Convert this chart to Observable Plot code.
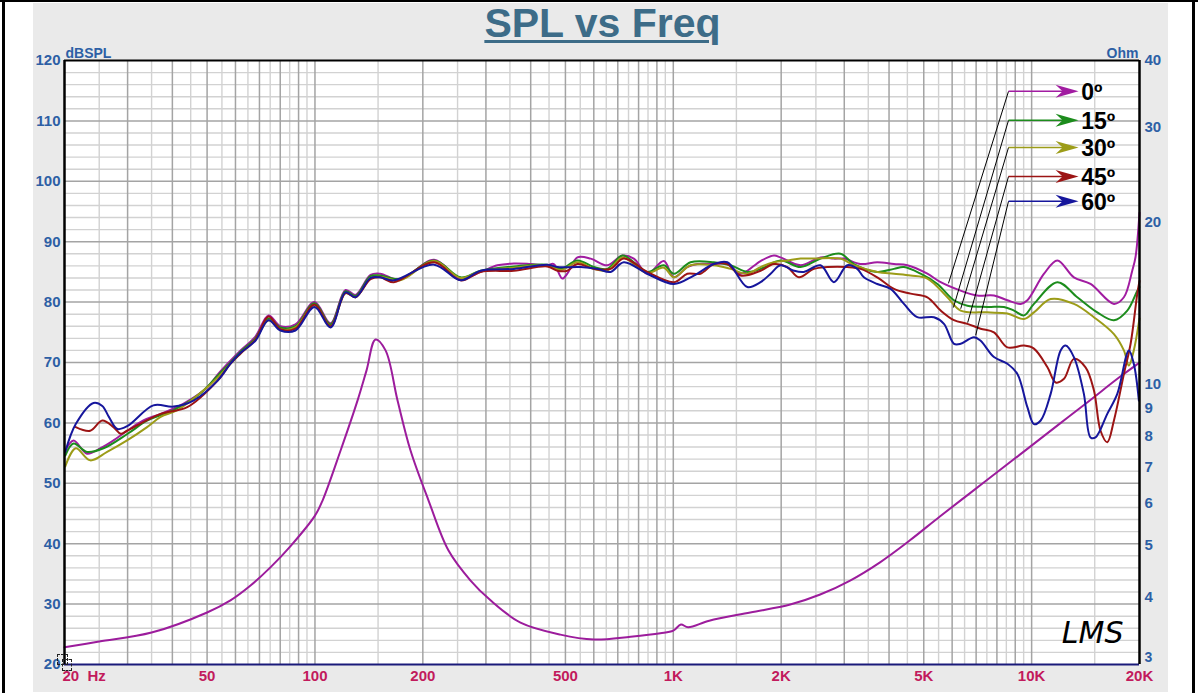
<!DOCTYPE html>
<html><head><meta charset="utf-8">
<script src="https://cdn.jsdelivr.net/npm/d3@7"></script>
<script src="https://cdn.jsdelivr.net/npm/@observablehq/plot@0.6"></script>
<style>
body{margin:0;background:#fff;}
#frame{position:relative;width:1198px;height:693px;overflow:hidden;background:#fff;}
.bk{position:absolute;background:#000;}
#panel{position:absolute;left:33px;top:3px;width:1135px;height:689px;background:#eaeaea;}
#title{position:absolute;left:0;top:0;width:1205px;text-align:center;font:bold 41px/46px "Liberation Sans",Arial,sans-serif;color:#3d6c88;text-decoration:underline;text-decoration-thickness:3px;text-underline-offset:3px;}
#chart{position:absolute;left:0;top:0;}
.cur{position:absolute;border:1px dashed #222;}
</style></head>
<body>
<div id="frame">
  <div id="panel"></div>
  <div class="bk" style="left:0;top:0;width:1198px;height:2px"></div>
  <div class="bk" style="left:2px;top:0;width:3px;height:693px"></div>
  <div class="bk" style="left:1192px;top:0;width:3px;height:693px"></div>
  <div id="title">SPL vs Freq</div>
  <div id="chart"></div>
  <div class="cur" style="left:57px;top:654px;width:9px;height:9px"></div>
  <div class="cur" style="left:62px;top:659px;width:8px;height:10px"></div>
</div>
<script>
// ---------- data ----------
const seriesNames = ["0º","15º","30º","45º","60º"];
const seriesColors = ["#a11ca1","#1c8c1c","#9c9c18","#9c1414","#16169c"];

const spl0 = [[20.1,55.4],[21.2,57.1],[23.1,54.9],[25.2,55.8],[27.4,57.1],[29.9,58.7],[33.2,60.4],[37.1,61.5],[43,63.2],[50.1,65.9],[53.5,68.0],[58.1,70.3],[62,72.0],[68.2,74.3],[74.2,77.8],[80.1,76.0],[88.2,76.3],[99.7,80.0],[110.5,76.5],[121.7,82.0],[129.8,81.2],[142.9,84.5],[152,84.7],[173,83.7],[215,87.0],[255,83.9],[290,85.0],[323,86.1],[359,86.4],[400,86.3],[445,86.1],[464,86.3],[490,83.9],[506,84.7],[540,87.4],[588,87.2],[654,86.1],[721,87.7],[776,87.2],[846,84.7],[941,86.8],[1004,84.1],[1094,85.8],[1166,86.3],[1298,86.3],[1415,86.3],[1541,84.7],[1752,86.8],[1909,87.7],[1992,87.4],[2266,86.1],[2576,87.4],[2807,87.2],[2993,87.2],[3331,86.3],[3709,86.6],[4128,86.3],[4498,86.1],[5117,84.7],[5574,83.3],[6337,81.9],[7055,81.1],[7850,81.1],[8558,80.3],[9322,79.7],[9731,80.3],[10830,84.7],[11800,86.9],[13120,84.1],[14600,83.0],[16970,79.7],[18090,80.8],[19090,85.2],[19500,87.5],[20000,94.8]];

const spl15 = [[20.1,54.6],[21.2,56.6],[23.1,55.2],[25.7,55.8],[30,58.2],[34.1,60.4],[40.3,62.1],[47.9,64.9],[53.5,67.8],[58.1,70],[62,71.8],[68.2,74],[74.2,77.3],[80.1,75.8],[88.2,76],[99.7,79.8],[110.5,76.3],[121.7,81.8],[129.8,81],[142.9,84.3],[152,84.4],[173,83.8],[215,86.9],[255,84.1],[290,85.2],[359,85.9],[445,86.2],[485,85.5],[540,86.9],[600,85.8],[654,85.5],[721,87.7],[776,86.6],[846,85.0],[941,86.1],[1004,84.7],[1117,86.6],[1298,86.6],[1445,86.1],[1609,85.0],[1752,85.5],[1992,86.9],[2266,85.8],[2576,87.2],[2929,88.0],[3191,86.3],[3709,85.0],[4128,85.5],[4402,85.8],[4900,84.7],[5457,83.0],[6071,80.3],[6617,79.4],[7523,79.2],[8373,79.2],[8929,78.6],[9521,77.8],[10150,79.7],[11800,83.3],[13410,80.8],[15250,78.3],[16970,77.0],[18490,78.6],[19720,81.9],[20000,82.5]];

const spl30 = [[20.1,52.8],[21.5,55.8],[23.6,53.8],[26.3,55.2],[29.9,57.1],[34,59.3],[37.1,61],[41.3,62.1],[48.9,65.4],[53.5,67.5],[58.1,69.8],[62,71.5],[68.2,73.8],[74.2,77],[80.1,75.5],[88.2,75.8],[99.7,79.5],[110.5,76],[121.7,81.5],[129.8,80.8],[142.9,84],[152,84.2],[173,83.6],[215,86.8],[255,84.0],[290,85.1],[359,85.7],[445,86.1],[485,85.3],[540,86.6],[600,85.5],[654,85.2],[721,87.4],[776,86.3],[846,84.8],[941,85.7],[1004,84.1],[1117,86.1],[1298,86.1],[1445,85.5],[1609,84.7],[1752,85.8],[1909,86.6],[2080,86.9],[2266,87.2],[2468,87.2],[2929,87.2],[3191,86.1],[3709,85.0],[4128,84.7],[4595,84.4],[5117,83.9],[5819,80.8],[6337,78.6],[7523,78.3],[8558,78.1],[9521,77.2],[10150,78.3],[11300,80.5],[13120,79.7],[14920,77.5],[16970,74.7],[18090,72.0],[18680,69.5],[19280,72.0],[20000,77.3]];

const spl45 = [[21.5,59.3],[23.6,58.7],[25.5,60.4],[27.4,59.3],[28.7,58.2],[29.9,58.7],[37.1,61.5],[44,62.6],[53.5,67],[58.1,69.8],[62,71.5],[68.2,73.8],[74.2,77.6],[80.1,75.5],[88.2,75.6],[99.7,79.6],[110.5,76],[121.7,81.5],[129.8,80.8],[142.9,83.8],[152,84.1],[166,83.3],[215,86.6],[255,83.6],[290,85.0],[359,85.2],[445,85.9],[475,85.2],[506,85.2],[540,86.3],[600,85.5],[668,85.5],[728,87.2],[846,85.0],[1004,83.3],[1094,84.7],[1191,84.7],[1298,86.3],[1415,86.3],[1541,84.4],[1752,85.2],[1909,86.3],[2080,85.8],[2241,84.1],[2468,85.5],[2689,85.8],[3058,85.8],[3331,85.5],[3709,84.1],[4128,82.2],[4595,81.4],[5117,80.8],[5574,78.6],[6071,77.0],[6617,76.4],[7206,75.6],[7850,75.0],[8558,72.5],[9521,72.8],[10150,72.3],[11070,69.2],[11670,66.7],[12310,67.3],[13120,70.6],[14140,69.2],[14920,65.4],[15570,58.7],[16260,56.8],[16970,60.4],[18090,68.1],[18890,73.1],[19720,81.4],[20000,83.5]];

const spl60 = [[20.1,55.2],[21.5,59.8],[24.1,63.3],[25.5,62.8],[26.6,61],[28.1,59],[30,59.5],[35.4,62.9],[40.3,62.7],[45.8,63.7],[53.5,67],[58.1,69.8],[62,71.6],[68.2,73.6],[74.2,77],[80.1,75.3],[88.2,75.3],[99.7,79.2],[110.5,75.8],[121.7,81.6],[129.8,80.8],[142.9,84],[152,84.1],[166,83.6],[215,86.2],[255,83.6],[290,85.2],[359,85.5],[445,86.2],[475,85.8],[551,85.8],[614,85.5],[668,85.0],[728,86.6],[846,84.7],[1004,83.0],[1141,84.4],[1298,86.3],[1415,86.6],[1609,82.5],[1752,83.3],[1869,84.7],[1992,86.1],[2171,85.2],[2314,85.0],[2576,86.1],[2807,83.3],[3058,86.1],[3262,85.5],[3403,84.1],[3709,83.0],[4041,82.2],[4402,79.7],[4797,77.5],[5339,77.5],[5693,76.4],[6071,73.1],[6337,73.1],[6903,74.2],[7206,73.6],[7850,70.9],[8558,69.8],[9126,68.1],[9731,62.6],[10150,59.8],[10600,60.4],[11300,64.8],[12050,72.0],[12440,72.8],[13120,70.9],[13990,64.8],[14600,57.6],[15080,57.6],[16260,61.5],[17340,64.8],[18680,72.0],[19280,69.8],[19920,63.7]];

// impedance [Hz, Ohm]
const impedance = [[20,3.23],[25,3.31],[35,3.44],[50,3.75],[58.1,3.95],[66.1,4.21],[75.1,4.55],[85.6,4.99],[100,5.68],[105,6.06],[117.9,7.51],[131.5,9.31],[139.3,10.59],[147.6,12.09],[157.4,11.54],[170,9.31],[184.8,7.51],[207.5,6.06],[235.9,4.89],[271.8,4.30],[309,3.95],[374.6,3.59],[484,3.41],[600,3.34],[760,3.38],[920,3.43],[1000,3.47],[1050,3.56],[1100,3.52],[1260,3.62],[1640,3.75],[2120,3.88],[2570,4.05],[3115,4.30],[3775,4.65],[4575,5.11],[5545,5.66],[6720,6.25],[8140,6.90],[9870,7.62],[11960,8.42],[14500,9.30],[17570,10.28],[20000,10.95]];

// axes
const dbTicks = [20,30,40,50,60,70,80,90,100,110,120];
const ohmTicks = [4,5,6,7,8,9,10,20,30,40];
const ohmBottom = [3];
const freqTicks = [50,100,200,500,1000,2000,5000,10000,20000];
const freqLabels = ["50","100","200","500","1K","2K","5K","10K","20K"];

// legend annotation (Hz, dBSPL)
const legendLevels = [114.9,110.1,105.6,100.8,96.7];
const legendAnchorF = [5860,6050,6340,6630,6980];
const legendAnchorDb = [83.1,79.1,78.9,76.6,74.5];
const legendStartF = 8620, legendTipF = 13520, legendTextF = 13750;

// ---------- chart ----------
const ohmToDb = z => 20 + 100 * Math.log(z / 3) / Math.log(40 / 3);
const blue = "#2d5fa5", crimson = "#c21a5c";

const minorF = [], majorF = [];
for (const dec of [10, 100, 1000, 10000])
  for (let k = 1; k < 10; k += 0.5) {
    const f = k * dec;
    if (f > 20 && f < 20000) (Number.isInteger(k) ? majorF : minorF).push(f);
  }
const minorDb = d3.range(22, 120, 2).filter(d => d % 10 !== 0);
const majorDb = d3.range(30, 120, 10);

const arrowHead = {
  draw(ctx) {
    ctx.moveTo(0, 0);
    ctx.lineTo(-23, -6.5);
    ctx.lineTo(-16, 0);
    ctx.lineTo(-23, 6.5);
    ctx.closePath();
  }
};

const seriesData = [spl0, spl15, spl30, spl45, spl60];
const legendIdx = d3.range(5);
const txt = {fill: blue, fontSize: 15, fontWeight: "bold"};

const chart = Plot.plot({
  width: 1198, height: 693,
  marginLeft: 64, marginRight: 59, marginTop: 60, marginBottom: 29,
  style: {background: "transparent", fontFamily: "'Liberation Sans', Arial, sans-serif", overflow: "visible"},
  x: {type: "log", domain: [20, 20000], axis: null},
  y: {domain: [20, 120], axis: null},
  marks: [
    Plot.frame({fill: "white", stroke: null}),
    Plot.ruleX(minorF, {stroke: "#d2d2d2", strokeWidth: 1.4}),
    Plot.ruleY(minorDb, {stroke: "#d2d2d2", strokeWidth: 1.4}),
    Plot.ruleX(majorF, {stroke: "#a4a4a4", strokeWidth: 1.5}),
    Plot.ruleY(majorDb, {stroke: "#a4a4a4", strokeWidth: 1.5}),
    Plot.line(impedance, {x: d => d[0], y: d => ohmToDb(d[1]), stroke: "#9c1c9c", strokeWidth: 2, curve: "catmull-rom"}),
    ...seriesData.map((s, i) => Plot.line(s, {x: d => d[0], y: d => d[1], stroke: seriesColors[i], strokeWidth: 2, curve: "catmull-rom"})),
    // legend leaders
    Plot.link(legendIdx, {x1: i => legendAnchorF[i], y1: i => legendAnchorDb[i], x2: legendStartF, y2: i => legendLevels[i], stroke: "black", strokeWidth: 1}),
    Plot.link(legendIdx, {x1: legendStartF, y1: i => legendLevels[i], x2: legendTipF * 0.96, y2: i => legendLevels[i], stroke: i => seriesColors[i], strokeWidth: 1.6}),
    Plot.dot(legendIdx, {x: legendTipF, y: i => legendLevels[i], symbol: arrowHead, r: 6.5, fill: i => seriesColors[i], stroke: "none"}),
    Plot.text(legendIdx, {x: legendTextF, y: i => legendLevels[i], text: i => seriesNames[i], fill: "black", fontSize: 23, fontWeight: "bold", textAnchor: "start", dy: 1}),
    // borders
    Plot.ruleY([20], {stroke: "#1a1a7a", strokeWidth: 2}),
    Plot.ruleY([120], {stroke: "black", strokeWidth: 2}),
    Plot.ruleX([20], {stroke: "black", strokeWidth: 2.5}),
    Plot.ruleX([20000], {stroke: "black", strokeWidth: 2.5}),
    // axes
    Plot.axisY(dbTicks, {anchor: "left", tickSize: 0, tickPadding: 4, label: null, color: blue, fontSize: 15, fontWeight: "bold"}),
    Plot.text(ohmTicks, {y: d => ohmToDb(d), frameAnchor: "right", dx: 5, textAnchor: "start", text: d => String(d), ...txt}),
    Plot.text(ohmBottom, {y: d => ohmToDb(d), frameAnchor: "right", dx: 5, dy: -7, textAnchor: "start", text: d => String(d), ...txt, fontSize: 14}),
    Plot.text(freqTicks, {x: d => d, frameAnchor: "bottom", dy: 16, text: (d, i) => freqLabels[i], fill: crimson, fontSize: 15, fontWeight: "bold"}),
    Plot.text(["20\u00a0\u00a0Hz"], {x: 20, frameAnchor: "bottom", dy: 16, dx: -2, textAnchor: "start", fill: crimson, fontSize: 15, fontWeight: "bold"}),
    Plot.text(["dBSPL"], {frameAnchor: "top-left", dy: -12, dx: 1, textAnchor: "start", fill: blue, fontSize: 14, fontWeight: "bold"}),
    Plot.text(["Ohm"], {frameAnchor: "top-right", dy: -12, dx: -1, textAnchor: "end", fill: blue, fontSize: 14, fontWeight: "bold"}),
    Plot.text(["LMS"], {frameAnchor: "bottom-right", dx: -16, dy: -22, textAnchor: "end", fill: "black", fontSize: 30, fontStyle: "italic", fontWeight: 200, fontFamily: "'DejaVu Sans', sans-serif"})
  ]
});
document.getElementById("chart").appendChild(chart);
</script>
</body></html>
